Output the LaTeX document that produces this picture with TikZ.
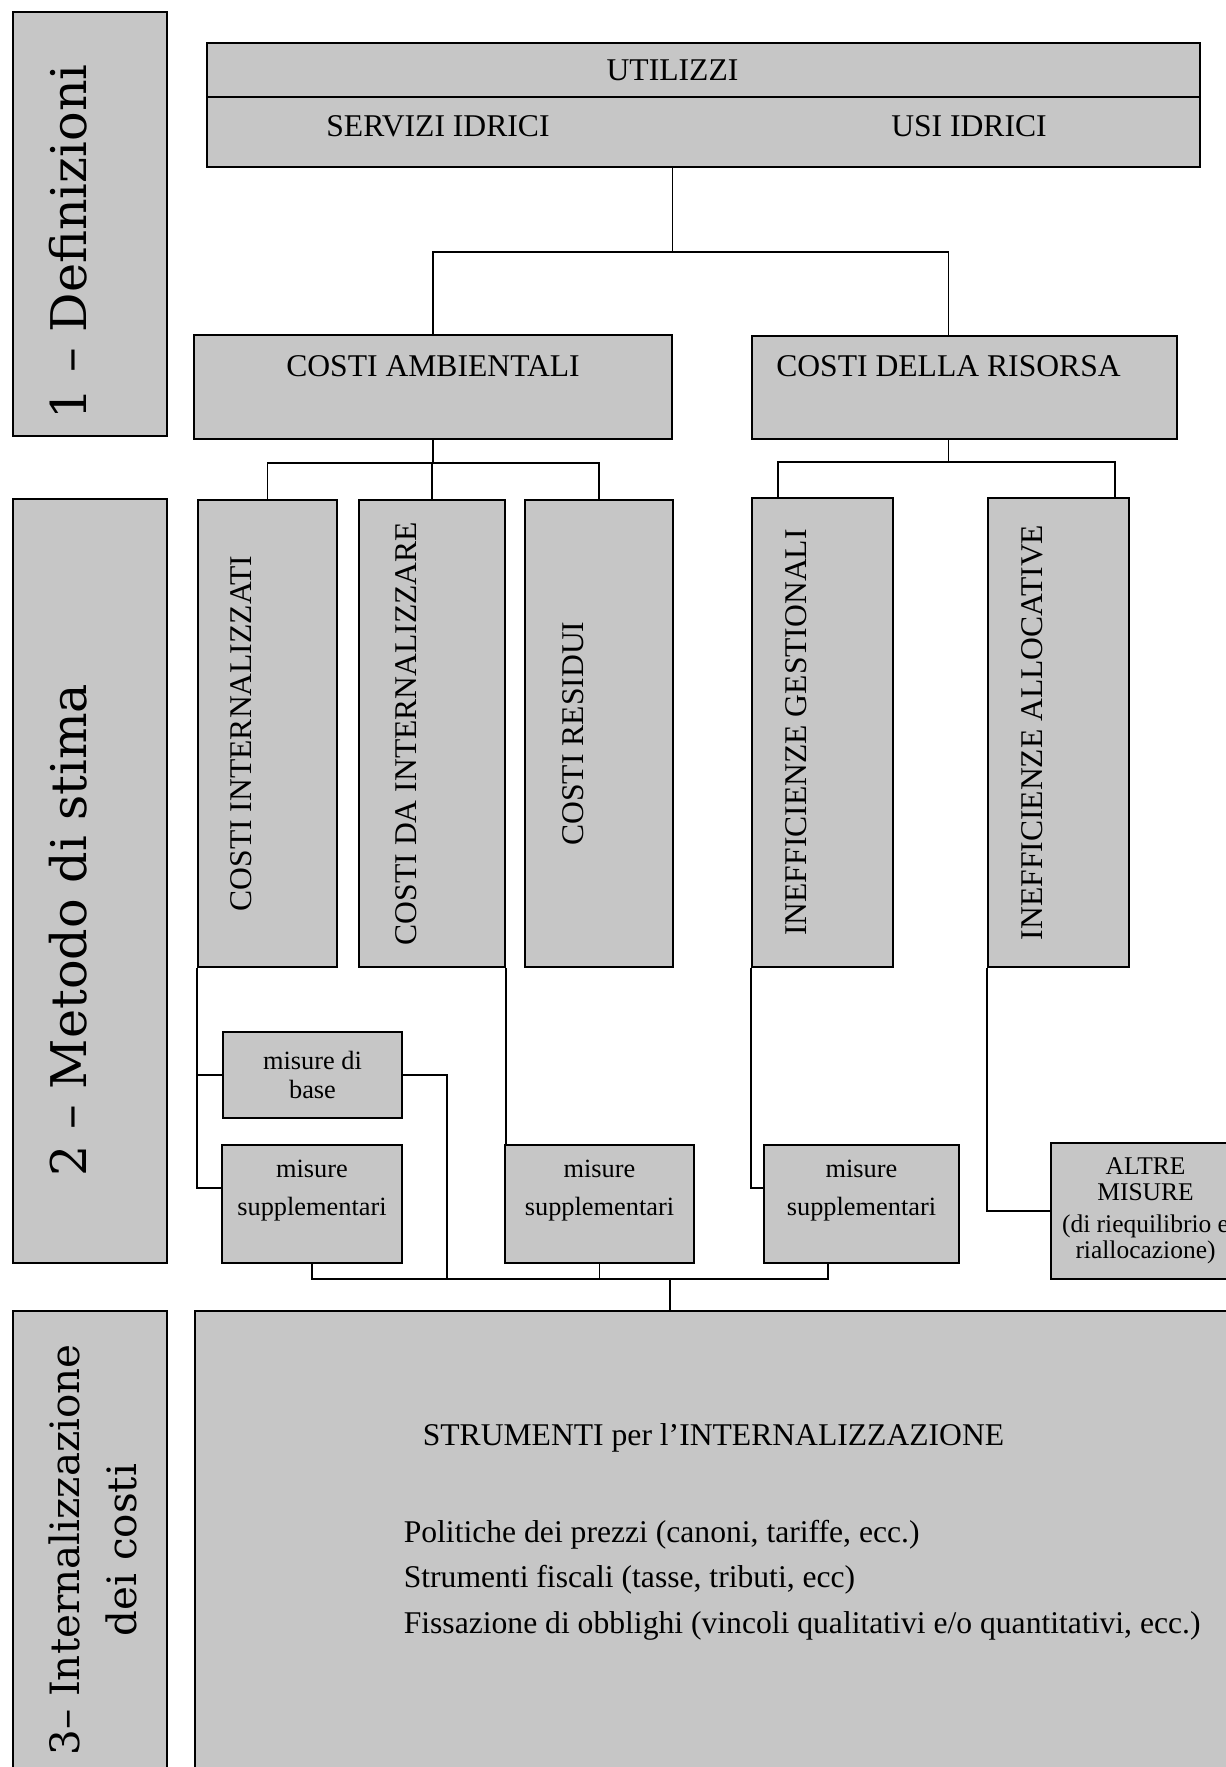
\documentclass[tikz,border=0pt]{standalone}
\usepackage{fontspec}
\setmainfont{Liberation Serif}
\newfontfamily\phasefont{DejaVu Serif}
\definecolor{boxgray}{RGB}{198,198,198}

\begin{document}
\begin{tikzpicture}[x=0.02cm, y=-0.02cm, line width=0.9pt]
  \tikzstyle{box}=[draw, fill=boxgray, line width=1.3pt, inner sep=0, align=center, font=\fontsize{18}{22}\selectfont]
  \tikzstyle{measure}=[box, font=\fontsize{15}{16}\selectfont]
  \tikzstyle{txt}=[inner sep=0, font=\fontsize{18}{22}\selectfont]
  \tikzstyle{vtxt}=[txt, rotate=90]
  \tikzstyle{mtxt}=[inner sep=0, align=center, font=\fontsize{15}{16}\selectfont]
  \tikzstyle{phase-txt}=[inner sep=0, rotate=90, align=center, font=\phasefont\fontsize{28}{32}\selectfont]

  \useasboundingbox (0,0) rectangle (1226,1767);
  \clip (0,0) rectangle (1226,1767);

  % phases on the left
  \node [box, minimum width=3.08cm, minimum height=8.48cm] (P-1) at (90,224) {};
  \node [box, minimum width=3.08cm, minimum height=15.28cm] (P-2) at (90,881) {};
  \node [box, minimum width=3.08cm, minimum height=9.78cm] (P-3) at (90,1555.5) {};
  \node [phase-txt, anchor=base west] (P-1-t) at (86,420) {1 – Definizioni};
  \node [phase-txt, anchor=base west] (P-2-t) at (86,1177) {2 – Metodo di stima};
  \node [phase-txt, font=\phasefont\fontsize{23}{32}\selectfont] (P-3-t) at (93,1550) {3– Internalizzazione\\dei costi};

  % definizioni
  \node [box, minimum width=19.86cm, minimum height=1.08cm] (U) at (703.5,70) {};
  \node [txt, anchor=base] (U-t) at (672.5,81) {UTILIZZI};
  \node [box, minimum width=19.86cm, minimum height=1.4cm] (U-b) at (703.5,132) {};
  \node [txt, anchor=base] (SI) at (438,137) {SERVIZI IDRICI};
  \node [txt, anchor=base] (UI) at (969,137) {USI IDRICI};

  \node [box, minimum width=9.56cm, minimum height=2.08cm] (CA) at (433,387) {};
  \node [txt, anchor=base] (CA-t) at (433,377) {COSTI AMBIENTALI};
  \node [box, minimum width=8.5cm, minimum height=2.06cm] (CDR) at (964.5,387.5) {};
  \node [txt, anchor=base] (CDR-t) at (948.5,377) {COSTI DELLA RISORSA};

  % metodo di stima
  \node [box, minimum width=2.78cm, minimum height=9.34cm] (C-int) at (267.5,733.5) {};
  \node [box, minimum width=2.92cm, minimum height=9.34cm] (C-da) at (432,733.5) {};
  \node [box, minimum width=2.96cm, minimum height=9.34cm] (C-res) at (599,733.5) {};
  \node [box, minimum width=2.82cm, minimum height=9.38cm] (I-ges) at (822.5,732.5) {};
  \node [box, minimum width=2.82cm, minimum height=9.38cm] (I-all) at (1058.5,732.5) {};
  \node [vtxt] (C-int-t) at (241.5,733.5) {COSTI INTERNALIZZATI};
  \node [vtxt] (C-da-t) at (406,733.5) {COSTI DA INTERNALIZZARE};
  \node [vtxt] (C-res-t) at (573,733.5) {COSTI RESIDUI};
  \node [vtxt] (I-ges-t) at (796.5,732.5) {INEFFICIENZE GESTIONALI};
  \node [vtxt] (I-all-t) at (1032.5,732.5) {INEFFICIENZE ALLOCATIVE};

  \node [measure, minimum width=3.58cm, minimum height=1.72cm] (M-base) at (312.5,1075) {misure di\\base};
  \node [measure, minimum width=3.6cm, minimum height=2.36cm] (M-sup1) at (312,1204) {};
  \node [measure, minimum width=3.78cm, minimum height=2.36cm] (M-sup2) at (599.5,1204) {};
  \node [measure, minimum width=3.9cm, minimum height=2.36cm] (M-sup3) at (861.5,1204) {};
  \node [measure, minimum width=3.78cm, minimum height=2.72cm, font=\fontsize{14.5}{15}\selectfont] (M-altre) at (1145.5,1211)
    {ALTRE\\MISURE\\[3pt](di riequilibrio e\\riallocazione)};
  \node [mtxt] (M-sup1-t) at ([yshift=0.27cm]M-sup1.center) {misure\\[6pt]supplementari};
  \node [mtxt] (M-sup2-t) at ([yshift=0.27cm]M-sup2.center) {misure\\[6pt]supplementari};
  \node [mtxt] (M-sup3-t) at ([yshift=0.27cm]M-sup3.center) {misure\\[6pt]supplementari};

  % internalizzazione
  \node [box, minimum width=21.3cm, minimum height=9.78cm] (STR) at (727.5,1555.5) {};
  \node [txt, anchor=base west] (STR-t) at (422,1445) {STRUMENTI per l’INTERNALIZZAZIONE};
  \node [txt, anchor=north west, align=left, font=\fontsize{18}{26.1}\selectfont] (STR-l) at (403,1519)
    {Politiche dei prezzi (canoni, tariffe, ecc.)\\Strumenti fiscali (tasse, tributi, ecc)\\Fissazione di obblighi (vincoli qualitativi e/o quantitativi, ecc.)};

  % connectors
  \coordinate (J-1) at (672.5,252);
  \coordinate (J-2) at (433,463);
  \coordinate (J-3) at (948.5,462);
  \coordinate (base-drop) at (447,1279);
  \coordinate (bus) at (670,1279);

  \draw (U-t |- U-b.south) -- (J-1);
  \draw (CA.north) |- (J-1) -| (CDR-t |- CDR.north);

  \draw (CA.south) -- (J-2);
  \draw (C-int.north) |- (J-2) -| (C-res.north);
  \draw (C-da.north) -- (C-da.north |- J-2);
  \draw (CDR-t |- CDR.south) -- (J-3);
  \draw ([xshift=-0.89cm]I-ges.north) |- (J-3) -| ([xshift=1.13cm]I-all.north);

  \draw (C-int.south west) |- ([yshift=0.32cm]M-sup1.west);
  \draw (M-base.west) -- (M-base.west -| C-int.south west);
  \draw (M-base.east) -| (base-drop);
  \draw (C-da.south east) -- (C-da.south east |- M-sup2.north);
  \draw (I-ges.south west) |- ([yshift=0.32cm]M-sup3.west);
  \draw (I-all.south west) |- (M-altre.west);

  \draw (M-sup1.south) |- (bus) -| ([xshift=-0.67cm]M-sup3.south);
  \draw (M-sup2.south) -- (M-sup2.south |- bus);
  \draw (bus) -- (bus |- STR.north);
\end{tikzpicture}
\end{document}
